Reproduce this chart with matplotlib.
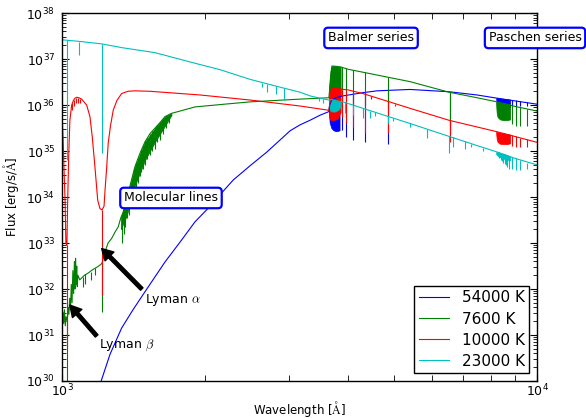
import numpy as np
import matplotlib
matplotlib.use('Agg')
import matplotlib.pyplot as plt
from matplotlib.ticker import NullFormatter

plt.rcParams['mathtext.fontset'] = 'cm'
plt.rcParams['font.family'] = 'DejaVu Sans'

# all fluxes are log10(erg/s/A), wavelengths in A

# ---- 54000 K (blue) ----
wl_54000 = [1190, 1209, 1262, 1335, 1411, 1495, 1648, 1781, 1905, 2015, 2151, 2293, 2488, 2700,
            2877, 3020, 3170, 3328, 3493, 3631, 3646, 3660, 3700, 3800, 3905, 4300, 4606, 5402,
            6527, 7476, 8240, 9000, 10000]
lf_54000 = [29.75, 30.0, 30.58, 31.15, 31.55, 31.94, 32.59, 33.05, 33.46, 33.72, 34.05, 34.37, 34.68, 34.98,
            35.24, 35.44, 35.57, 35.67, 35.78, 35.85, 35.86, 36.0, 36.12, 36.17, 36.20, 36.27, 36.31, 36.34,
            36.29, 36.22, 36.15, 36.09, 36.02]
bands_54000 = [
    ([3646, 3660, 3690, 3730, 3780, 3840], [35.86, 35.62, 35.5, 35.45, 35.43, 35.45], [35.86, 36.0, 36.12, 36.15, 36.17, 36.19]),
    ([8204, 8230, 8300, 8450, 8600, 8780], [36.14, 36.0, 35.96, 35.93, 35.93, 35.95], [36.15, 36.15, 36.15, 36.14, 36.13, 36.12]),
]
lines_wl_54000 = [3889, 3970, 4102, 4340, 4861, 6563, 8865, 9015, 9229, 9546]
lines_top_54000 = [36.19, 36.21, 36.23, 36.27, 36.33, 36.29, 36.11, 36.10, 36.08, 36.06]
lines_bot_54000 = [35.46, 35.31, 35.24, 35.19, 35.15, 35.45, 35.95, 35.95, 35.97, 35.98]

# ---- 7600 K (green) ----
wl_7600 = [1000, 1004, 1008, 1012, 1016, 1020, 1026, 1030, 1034, 1038, 1042, 1046, 1050, 1054, 1058,
           1062, 1065, 1068, 1071, 1074, 1077, 1080, 1090, 1100, 1115, 1136, 1160, 1191, 1205, 1214,
           1232, 1250, 1272, 1295, 1313, 1330, 1346, 1369, 1395, 1424, 1459, 1495, 1532, 1570, 1608,
           1648, 1700, 1772, 1905, 2200, 2488, 3170, 3493, 3646, 3700, 3800, 3860, 4000, 5402, 6527,
           7476, 8240, 9000, 10000]
lf_7600 = [31.36, 31.5, 31.25, 31.55, 31.2, 31.4, 31.3, 31.6, 31.45, 31.8, 31.55, 32.1, 31.7, 32.4, 31.9,
           32.6, 32.0, 32.67, 32.1, 32.5, 32.05, 32.3, 32.2, 32.24, 32.3, 32.35, 32.42, 32.49, 32.53, 32.56,
           32.81, 33.0, 33.10, 33.25, 33.35, 33.55, 33.68, 33.97, 34.3, 34.66, 34.95, 35.2, 35.38, 35.5, 35.62,
           35.75, 35.82, 35.87, 35.96, 36.02, 36.07, 36.13, 36.15, 36.16, 36.85, 36.84, 36.83, 36.78, 36.51, 36.28,
           36.16, 36.07, 35.97, 35.87]
bands_7600 = [
    ([1330, 1369, 1424, 1495, 1570, 1648, 1700], [33.3, 33.6, 34.25, 34.8, 35.2, 35.55, 35.78], [33.55, 33.97, 34.66, 35.2, 35.5, 35.75, 35.82]),
    ([3646, 3652, 3662, 3675, 3690, 3720, 3800, 3860], [36.15, 36.12, 36.1, 36.1, 36.1, 36.1, 36.12, 36.2], [36.16, 36.4, 36.6, 36.75, 36.83, 36.85, 36.84, 36.83]),
    ([8204, 8225, 8260, 8350, 8500, 8650, 8780], [36.0, 35.82, 35.74, 35.69, 35.67, 35.67, 35.69], [36.07, 36.07, 36.06, 36.05, 36.04, 36.03, 36.02]),
]
lines_wl_7600 = [1025, 1215, 1105, 1120, 1150, 1175,
                 1338, 1350, 1360, 1372, 1384, 1396, 1408, 1420, 1432, 1445, 1458, 1470, 1484, 1498, 1513,
                 1530, 1548, 1568, 1588, 1610, 1632, 1656, 1680,
                 3889, 3970, 4102, 4340, 4861, 6563, 8865, 9015, 9229, 9546]
lines_top_7600 = [31.35, 32.56, 32.26, 32.32, 32.38, 32.45,
                  33.62, 33.74, 33.85, 34.0, 34.15, 34.31, 34.46, 34.61, 34.73, 34.84, 34.94, 35.03, 35.12, 35.21, 35.29,
                  35.37, 35.43, 35.49, 35.56, 35.62, 35.7, 35.76, 35.79,
                  36.82, 36.80, 36.77, 36.71, 36.61, 36.28, 36.0, 35.98, 35.95, 35.92]
lines_bot_7600 = [29.9, 31.51, 32.05, 32.12, 32.2, 32.3,
                  33.0, 33.2, 33.35, 33.55, 33.6, 33.85, 34.0, 34.1, 34.22, 34.3, 34.45, 34.55, 34.6, 34.7, 34.82,
                  34.92, 35.0, 35.05, 35.2, 35.25, 35.38, 35.5, 35.62,
                  36.2, 36.25, 36.05, 36.0, 35.89, 35.35, 35.58, 35.55, 35.55, 35.55]

# ---- 10000 K (red) ----
wl_10000 = [1000, 1006, 1011, 1015, 1019, 1024, 1028, 1033, 1039, 1048, 1057, 1065, 1074, 1085, 1100,
            1127, 1145, 1158, 1173, 1189, 1202, 1214, 1226, 1232, 1241, 1251, 1265, 1282, 1305, 1335,
            1377, 1424, 1532, 1952, 2488, 3170, 3631, 3646, 3700, 3800, 3860, 4000, 4303, 5402, 6527,
            8240, 10000]
lf_10000 = [35.89, 35.17, 34.44, 33.93, 33.0, 32.95, 33.93, 34.9, 35.67, 36.0, 36.1, 36.15, 36.17, 36.16, 36.13,
            36.0, 35.75, 35.31, 34.66, 33.93, 33.75, 33.72, 33.8, 34.15, 34.6, 35.17, 35.55, 35.89, 36.1, 36.25,
            36.3, 36.31, 36.30, 36.22, 36.11, 35.98, 35.89, 35.89, 36.36, 36.36, 36.35, 36.33, 36.25, 35.93, 35.67,
            35.42, 35.19]
bands_10000 = [
    ([3646, 3652, 3662, 3675, 3690, 3720, 3800, 3860], [35.89, 35.75, 35.7, 35.68, 35.67, 35.67, 35.7, 35.85], [35.89, 36.1, 36.25, 36.33, 36.36, 36.37, 36.36, 36.35]),
    ([8204, 8225, 8260, 8350, 8500, 8650, 8780], [35.38, 35.26, 35.2, 35.16, 35.15, 35.15, 35.17], [35.42, 35.42, 35.41, 35.40, 35.39, 35.37, 35.36]),
]
lines_wl_10000 = [1025, 1215, 1052, 1060, 1068, 1080, 1092, 3889, 3970, 4102, 4340, 4471, 4861, 5015, 6563,
                  8865, 9015, 9229, 9546]
lines_top_10000 = [32.95, 33.72, 36.05, 36.12, 36.16, 36.16, 36.14, 36.34, 36.33, 36.30, 36.24, 36.2, 36.08, 36.03, 35.66,
                   35.34, 35.32, 35.29, 35.26]
lines_bot_10000 = [30.72, 31.87, 35.9, 35.97, 36.05, 36.05, 36.05, 35.75, 35.6, 35.53, 35.39, 36.13, 35.4, 35.97, 35.2,
                   35.1, 35.09, 35.09, 35.09]

# ---- 23000 K (cyan) ----
wl_23000 = [1000, 1100, 1215, 1335, 1570, 1905, 2151, 2488, 2877, 3170, 3328, 3493, 3646, 3700, 3800,
            3905, 4606, 5402, 6527, 7476, 8240, 9000, 10000]
lf_23000 = [37.42, 37.38, 37.33, 37.25, 37.14, 36.91, 36.77, 36.56, 36.39, 36.28, 36.20, 36.15, 36.11, 36.12, 36.09,
            36.07, 35.83, 35.60, 35.32, 35.12, 34.98, 34.84, 34.70]
bands_23000 = [
    ([3646, 3655, 3670, 3700, 3760, 3820, 3870], [36.11, 35.95, 35.88, 35.86, 35.86, 35.9, 35.98], [36.11, 36.13, 36.13, 36.12, 36.1, 36.09, 36.08]),
    ([8204, 8300, 8450, 8600, 8780], [34.93, 34.88, 34.84, 34.82, 34.8], [34.98, 34.97, 34.94, 34.92, 34.88]),
]
lines_wl_23000 = [1025, 1085, 1215, 2633, 2698, 2822, 2934, 3470, 3550, 3940, 4095, 4303, 4450, 4560, 4860,
                  4980, 5410, 5860, 6527, 6640, 7060, 7250, 7700, 8300, 8380, 8440, 8500, 8550, 8600, 8660,
                  8750, 8865, 9015, 9229, 9546]
lines_top_23000 = [37.41, 37.38, 37.33, 36.49, 36.46, 36.41, 36.37, 36.16, 36.13, 36.06, 36.01, 35.93, 35.88, 35.85, 35.76,
                   35.72, 35.60, 35.49, 35.32, 35.30, 35.21, 35.16, 35.07, 34.97, 34.96, 34.95, 34.94, 34.93, 34.92, 34.91,
                   34.89, 34.87, 34.84, 34.80, 34.75]
lines_bot_23000 = [34.80, 37.09, 34.95, 36.40, 36.29, 36.25, 36.12, 36.08, 36.05, 35.83, 35.78, 35.71, 35.71, 35.77, 35.60,
                   35.65, 35.52, 35.28, 34.95, 35.09, 35.04, 35.08, 35.01, 34.85, 34.8, 34.78, 34.75, 34.72, 34.7, 34.66,
                   34.62, 34.6, 34.58, 34.58, 34.6]

spectra = [
    ('54000 K', 'b', wl_54000, lf_54000, bands_54000, lines_wl_54000, lines_top_54000, lines_bot_54000),
    ('7600 K', 'g', wl_7600, lf_7600, bands_7600, lines_wl_7600, lines_top_7600, lines_bot_7600),
    ('10000 K', 'r', wl_10000, lf_10000, bands_10000, lines_wl_10000, lines_top_10000, lines_bot_10000),
    ('23000 K', 'c', wl_23000, lf_23000, bands_23000, lines_wl_23000, lines_top_23000, lines_bot_23000),
]

fig = plt.figure(figsize=(5.86, 4.19), dpi=100)
ax = fig.add_axes([0.1058, 0.0907, 0.8106, 0.878])

handles = []
for label, col, wl, lf, bands, lwl, ltop, lbot in spectra:
    h, = ax.plot(wl, 10**np.array(lf), color=col, lw=0.8, label=label)
    handles.append(h)
    for bwl, blo, bhi in bands:
        ax.fill_between(bwl, 10**np.array(blo), 10**np.array(bhi), color=col, lw=0.5)
    ax.vlines(lwl, 10**np.array(lbot), 10**np.array(ltop), color=col, lw=0.8)

ax.set_xscale('log')
ax.set_yscale('log')
ax.set_xlim(1e3, 1e4)
ax.set_ylim(1e30, 1e38)
ax.xaxis.set_minor_formatter(NullFormatter())
ax.yaxis.set_minor_formatter(NullFormatter())
ax.tick_params(which='both', direction='in', top=True, right=True, labelsize=9)
ax.tick_params(which='major', length=5)
ax.tick_params(which='minor', length=3)
ax.tick_params(axis='x', which='minor', length=4)
ax.tick_params(axis='x', pad=1)
ax.tick_params(axis='y', pad=5)
for sp in ax.spines.values():
    sp.set_linewidth(1.0)

ax.set_xlabel(r'Wavelength [$\mathrm{\AA}$]', fontsize=8.5, labelpad=0)
ax.set_ylabel(r'Flux [erg/s/$\mathrm{\AA}$]', fontsize=8.5, labelpad=4)

boxstyle = dict(boxstyle='round,pad=0.3', fc='white', ec='blue', lw=1.6)
ax.text(4473, 10**37.46, 'Balmer series', fontsize=9, ha='center', va='center', bbox=boxstyle, zorder=10)
ax.text(9904, 10**37.46, 'Paschen series', fontsize=9, ha='center', va='center', bbox=boxstyle, zorder=10)
ax.text(1696, 10**33.98, 'Molecular lines', fontsize=9, ha='center', va='center', bbox=boxstyle, zorder=10)

arrow = dict(facecolor='black', edgecolor='black', width=2.5, headwidth=9, headlength=8)
ax.annotate('', xy=(1212, 10**32.88), xytext=(1472, 10**32.0), arrowprops=arrow, zorder=10)
ax.annotate('', xy=(1039, 10**31.65), xytext=(1183, 10**30.98), arrowprops=arrow, zorder=10)
ax.text(1495, 10**31.76, r'Lyman $\alpha$', fontsize=9, ha='left', va='center', zorder=10)
ax.text(1196, 10**30.78, r'Lyman $\beta$', fontsize=9, ha='left', va='center', zorder=10)

leg = ax.legend(handles=handles, loc='lower right', fontsize=11, fancybox=False,
                edgecolor='black', framealpha=1, handlelength=2.0, borderaxespad=0.5,
                borderpad=0.3, labelspacing=0.4, handletextpad=0.8)
leg.get_frame().set_linewidth(1.0)

fig.savefig('out.png', dpi=100)
